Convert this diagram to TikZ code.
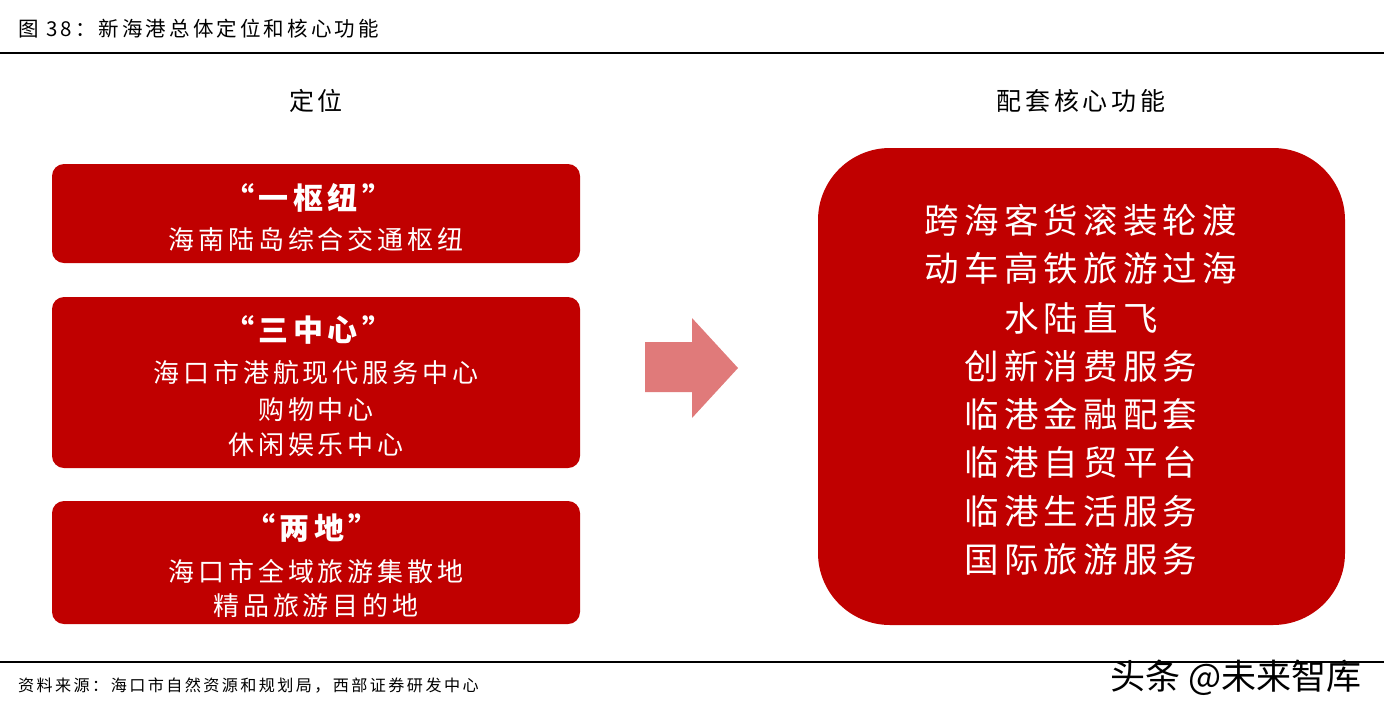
\documentclass[tikz,border=0pt]{standalone}
\usepackage{fontspec}
\newfontfamily\cjk{Noto Sans CJK SC}[LetterSpace=15]
\newfontfamily\cjkplain{Noto Sans CJK SC}
\definecolor{boxred}{HTML}{C00000}
\definecolor{arrowred}{HTML}{E07A7A}
\tikzset{
  redbox/.style={fill=boxred, draw=none, rounded corners=12pt},
  wt/.style={text=white, inner sep=0pt, anchor=center, font=\cjk\fontsize{26}{30}\selectfont},
  wthead/.style={text=white, inner sep=0pt, anchor=center, font=\cjk\bfseries\fontsize{30}{33}\selectfont},
  rt/.style={text=white, inner sep=0pt, anchor=center, font=\cjk\fontsize{34.5}{38}\selectfont},
  colhead/.style={text=black, inner sep=0pt, anchor=center, font=\cjk\fontsize{25}{28}\selectfont},
  rule/.style={line width=2pt, black}
}
\begin{document}
\begin{tikzpicture}[x=1pt,y=-1pt]
\useasboundingbox (0,0) rectangle (1384,713);
% title
\node[inner sep=0pt, anchor=west, font=\cjk\fontsize{20.5}{24}\selectfont] (title) at (18,29) {图 38：新海港总体定位和核心功能};
\coordinate (tl) at (0,53);
\coordinate (tr) at (1384,53);
\draw[rule] (tl) -- (tr);
% column headers
\node[colhead] (h1) at (316,101) {定位};
\node[colhead] (h2) at (1081,101) {配套核心功能};
% left boxes
\fill[redbox] (52,164) rectangle (580,263);
\node[wthead] (b1h) at (308,198) {“一枢纽”};
\node[wt] (b1a) at (316,240) {海南陆岛综合交通枢纽};

\fill[redbox] (52,297) rectangle (580,468);
\node[wthead] (b2h) at (308,330) {“三中心”};
\node[wt] (b2a) at (316,373) {海口市港航现代服务中心};
\node[wt] (b2b) at (316,410) {购物中心};
\node[wt] (b2c) at (316,445) {休闲娱乐中心};

\fill[redbox] (52,501) rectangle (580,624);
\node[wthead] (b3h) at (312,528) {“两地”};
\node[wt] (b3a) at (316,571) {海口市全域旅游集散地};
\node[wt] (b3b) at (316,606) {精品旅游目的地};

% arrow
\fill[arrowred] (645,342) -- (692,342) -- (692,318) -- (738,368) -- (692,418) -- (692,392) -- (645,392) -- cycle;

% right box
\fill[boxred, rounded corners=72pt] (818,148) rectangle (1345,625);
\node[rt] (r1) at (1081,220) {跨海客货滚装轮渡};
\node[rt] (r2) at (1081,268) {动车高铁旅游过海};
\node[rt] (r3) at (1081,318) {水陆直飞};
\node[rt] (r4) at (1081,366) {创新消费服务};
\node[rt] (r5) at (1081,414) {临港金融配套};
\node[rt] (r6) at (1081,462) {临港自贸平台};
\node[rt] (r7) at (1081,511) {临港生活服务};
\node[rt] (r8) at (1081,559) {国际旅游服务};

% bottom
\coordinate (bl) at (0,662);
\coordinate (br) at (1384,662);
\draw[rule] (bl) -- (br);
\node[inner sep=0pt, anchor=west, font=\cjk\fontsize{16.1}{20}\selectfont] (src) at (18,686) {资料来源：海口市自然资源和规划局，西部证券研发中心};
\node[inner sep=0pt, anchor=center, font=\cjkplain\fontsize{35}{38}\selectfont] (wm) at (1236,678) {头条 @未来智库};
\end{tikzpicture}
\end{document}
